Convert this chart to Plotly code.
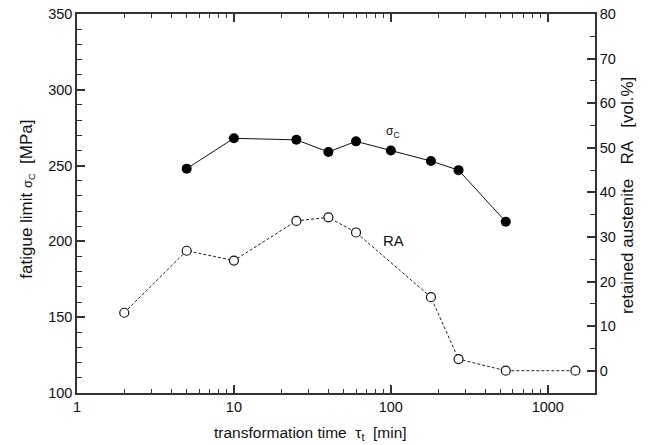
import plotly.graph_objects as go
import numpy as np

# fatigue limit sigma_C [MPa]
t_sigma = [5, 10, 25, 40, 60, 100, 180, 270, 540]
sigma_c = [248, 268, 267, 259, 266, 260, 253, 247, 213]

# retained austenite RA [vol.%]
t_ra = [2, 5, 10, 25, 40, 60, 180, 270, 540, 1500]
ra = [13.0, 26.9, 24.7, 33.6, 34.4, 31.0, 16.5, 2.6, 0, 0]

x_major = [1, 10, 100, 1000]
x_major_text = ["1", "10", "100", "1000"]
x_minor = [m * d for d in [1, 10, 100, 1000] for m in range(2, 10) if m * d <= 2000]

FONT = "Liberation Sans, Arial, sans-serif"
AX = "#333333"

fig = go.Figure()

fig.add_trace(go.Scatter(
    x=t_ra, y=ra, yaxis="y2", mode="lines+markers",
    line=dict(color="#222222", width=1, dash="3px,2px"),
    marker=dict(symbol="circle", size=9, color="white", line=dict(color="#111111", width=1.2)),
    showlegend=False, cliponaxis=False,
))
fig.add_trace(go.Scatter(
    x=t_sigma, y=sigma_c, mode="lines+markers",
    line=dict(color="#111111", width=1),
    marker=dict(symbol="circle", size=10, color="black"),
    showlegend=False, cliponaxis=False,
))

fig.update_layout(
    width=654, height=445,
    margin=dict(l=77, r=59, t=14, b=52),
    paper_bgcolor="white", plot_bgcolor="white",
    font=dict(family=FONT, size=14, color="#111111"),
    xaxis=dict(
        type="log", range=[0, np.log10(2000)], automargin=False,
        tickmode="array", tickvals=x_major, ticktext=x_major_text,
        ticks="inside", ticklen=8, tickwidth=1.5, tickcolor=AX,
        minor=dict(tickmode="array", tickvals=x_minor, ticks="inside", ticklen=4,
                   tickwidth=1, tickcolor=AX, showgrid=False),
        showline=True, linewidth=1.5, linecolor=AX, mirror="ticks",
        showgrid=False, zeroline=False,
        tickfont=dict(size=14.5),
    ),
    yaxis=dict(
        range=[100, 350], tickmode="linear", tick0=100, dtick=50, automargin=False,
        ticks="inside", ticklen=8, tickwidth=1.5, tickcolor=AX,
        minor=dict(dtick=10, ticks="inside", ticklen=5, tickwidth=1, tickcolor=AX, showgrid=False),
        showline=True, linewidth=1.5, linecolor=AX, mirror=False,
        showgrid=False, zeroline=False,
        tickfont=dict(size=14.5),
    ),
    yaxis2=dict(
        overlaying="y", side="right", range=[-5, 80], automargin=False,
        tickmode="linear", tick0=0, dtick=10,
        ticks="inside", ticklen=8, tickwidth=1.5, tickcolor=AX,
        minor=dict(dtick=5, ticks="inside", ticklen=5, tickwidth=1, tickcolor=AX, showgrid=False),
        showline=True, linewidth=1.5, linecolor=AX,
        showgrid=False, zeroline=False,
        tickfont=dict(size=14.5),
    ),
)

# axis titles placed in paper/pixel terms
fig.add_annotation(xref="paper", yref="paper", x=0.45, y=0, yshift=-40,
                   xanchor="center", yanchor="middle",
                   text="transformation time  τ<sub>t</sub>  [min]", showarrow=False,
                   font=dict(size=15.5, family=FONT))
fig.add_annotation(xref="paper", yref="paper", x=0, y=0.51, xshift=-50, textangle=-90,
                   xanchor="center", yanchor="middle",
                   text="fatigue limit <span style='font-size:13px'>σ<sub>C</sub></span>  [MPa]",
                   showarrow=False, font=dict(size=17, family=FONT))
fig.add_annotation(xref="paper", yref="paper", x=1, y=0.52, xshift=33, textangle=-90,
                   xanchor="center", yanchor="middle",
                   text="retained austenite   RA   [vol.%]", showarrow=False,
                   font=dict(size=17, family=FONT))

fig.add_annotation(x=np.log10(102), y=272, xref="x", yref="y",
                   text="<span style='font-size:12px'>σ<sub>C</sub></span>",
                   showarrow=False, font=dict(size=14, family=FONT))
fig.add_annotation(x=np.log10(104.5), y=200.8, xref="x", yref="y",
                   text="RA", showarrow=False, font=dict(size=15, family=FONT))

fig.write_html("out.html", post_script="document.body.style.margin='0';",
               config={"displayModeBar": False})
